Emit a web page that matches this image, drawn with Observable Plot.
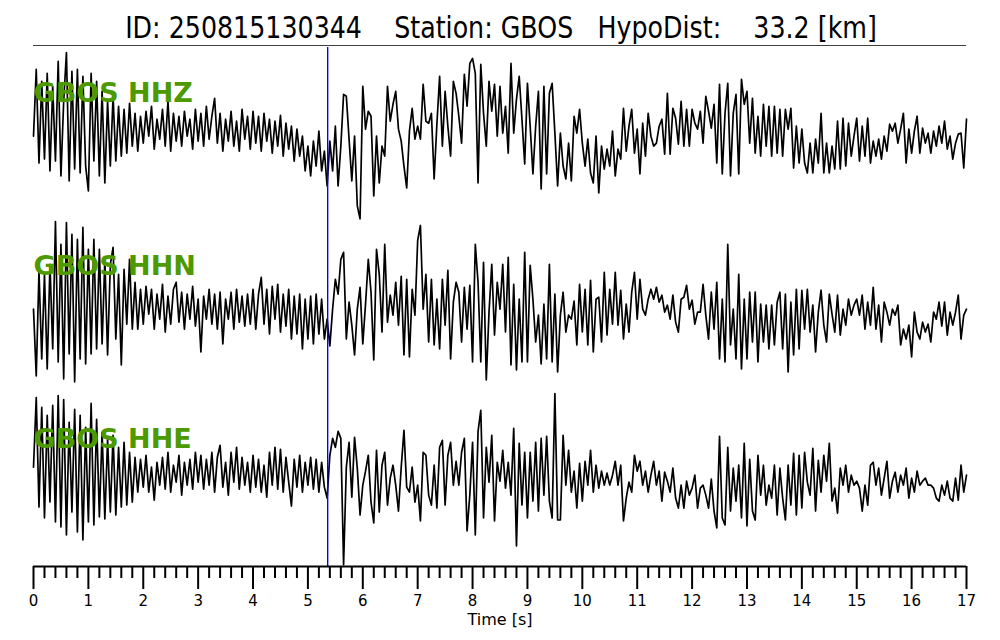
<!DOCTYPE html>
<html>
<head>
<meta charset="utf-8">
<script src="https://cdn.jsdelivr.net/npm/d3@7"></script>
<script src="https://cdn.jsdelivr.net/npm/@observablehq/plot@0.6"></script>
<style>
  html, body { margin: 0; padding: 0; background: white; }
  #wrap { position: relative; width: 1000px; height: 640px; overflow: hidden; background: white; }
  #title { position: absolute; left: 0; top: 0; }
  #chart { position: absolute; left: 0; top: 46px; }
</style>
</head>
<body>
<div id="wrap">
  <svg id="title" width="1000" height="48">
    <text id="titleText" x="0" y="0" text-anchor="middle" font-family="DejaVu Sans" font-size="30" fill="black"
          style="white-space:pre"></text>
    <line x1="33" x2="966" y1="46" y2="46" stroke="black" stroke-width="1.6"></line>
  </svg>
  <div id="chart"></div>
</div>
<script>
// ---- data (sample interval 0.05 s) ----
const eventId = "250815130344";
const station = "GBOS";
const hypoDistKm = "33.2";
const channels = ["HHZ", "HHN", "HHE"];
const sampleInterval = 0.05;   // seconds between samples
const pickTime = 5.36;         // blue marker (s)
const majorTicks = [0,1,2,3,4,5,6,7,8,9,10,11,12,13,14,15,16,17];
const tickStep = 0.2;

const hhz = [
 -5, 62, -32, 50, -28, 58, -40, 45, -30, 70, -45, 30, 79, -50, 60, -38, 62, -42, 55, -35,
 -60, 58, -30, 50, -45, 40, -52, 30, -35, 35, -30, 25, -25, 22, -22, 28, -15, 18, -20, 15,
 -12, 20, -5, 25, -18, 12, -8, 22, -15, 30, -20, 18, -10, 15, -15, 20, -5, 12, -18, 22,
 -10, 18, -15, 25, -8, 15, 33, -12, 18, -20, 12, -10, 20, -15, 10, -20, 22, -8, 15, -18,
 20, -12, 15, -20, 18, -10, 12, -22, 10, -15, 16, -25, 8, -18, 5, -30, 2, -25, -5, -40,
 -15, -45, -10, -35, 0, -40, -20, -55, -10, -40, 5, -55, -15, 37, 35, -8, -50, -5, -75, -88,
 45, 2, 20, 15, -65, -5, -52, -15, -25, 45, 10, 27, 40, 2, -10, -35, -57, 0, 23, -8,
 5, -8, 47, 10, 8, 18, -48, 7, 55, -15, 40, 5, -25, 50, 38, 15, -12, 57, 25, 68,
 73, 58, -52, 67, 18, -15, 50, 20, 47, -5, 45, -2, 25, -22, 68, -2, 32, 55, 12, -33,
 48, 5, -43, 5, 40, -58, 45, -43, 38, 48, -2, -55, -2, -35, -48, -12, -50, 15, -2, 22,
 -12, -35, -8, -42, -52, -5, -62, -15, -38, -18, -35, 0, -45, -18, -28, 23, -20, 5, 22, -22,
 2, -43, 8, -25, 18, -5, -15, -12, 5, 12, -23, 38, -23, 23, 13, -13, 30, -15, 22, -15,
 22, 8, 2, 20, -12, 35, 20, 3, 27, -32, 47, -43, 18, 48, -45, 18, 37, -43, 52, 27,
 40, -12, 33, -22, 15, -25, 27, -15, 25, -25, 25, -22, 22, -25, 22, 2, 23, -37, 5, -32,
 2, -32, -42, -12, -42, -8, -32, 18, -42, -12, -42, -15, -38, 10, -38, 13, -35, 8, -25, -5,
 13, -30, 5, -25, 13, -32, -10, -25, -8, -28, -5, -20, 7, 0, 8, -12, 2, 18, -32, 2,
 -22, 0, 15, -22, 3, -12, -2, -22, 0, -15, 5, -12, 10, -18, -5, -28, -12, -3, -2, -37, 12
];

const hhn = [
 -5, -72, 33, -55, 30, -65, 40, -45, 83, -58, 60, -75, 82, -50, 70, -78, 65, -55, 77, -60,
 55, -50, 65, -45, 55, -40, 45, -51, 40, 57, -35, 30, -61, 35, -20, 45, -25, 22, -25, 15,
 -20, 18, -10, 15, -25, 10, -15, 20, -28, 8, -20, 15, 22, -18, 12, -25, 10, -15, 18, -22,
 5, -48, 8, -15, 15, -20, 10, -25, 12, -40, 5, -15, 12, -25, 15, -18, 8, -22, 10, -20,
 15, -25, 10, 27, -20, 15, -30, 18, -15, 20, -28, 10, -22, 15, -35, 8, -30, 10, -45, 5,
 -35, 8, -40, 10, -30, 5, -35, -15, -42, -5, 25, 10, 45, 52, -35, 2, -21, -51, -5, 17,
 -40, 0, 45, 12, -56, 55, 30, -28, 60, -18, 9, -11, 22, -21, 28, -51, 25, -53, 15, -11,
 64, 79, -5, 30, -38, 25, -41, 5, -45, 25, -21, 34, -55, 2, 22, 12, -38, 17, -25, 19,
 -58, 60, 22, -58, 42, -76, -8, 40, -31, 22, -5, 40, -28, 47, -61, 20, -66, 5, -58, 52,
 -58, 39, 5, -38, -11, -60, 0, -55, 40, -58, 10, -68, -11, 12, -28, -11, -15, 3, -41, 20,
 -28, 15, -41, 24, -48, 5, 7, -38, 32, -31, 15, -20, 32, -21, 14, -35, 0, -28, 12, 32,
 -15, 25, -5, -11, 5, 15, 5, 17, 2, 9, -8, -1, -15, 9, -18, -28, 5, 7, 19, -5,
 4, -20, -8, -8, 20, -11, -35, 12, -25, 22, -55, 5, -58, 60, -41, -5, -55, 30, -65, 5,
 -55, 12, -38, 12, -58, 0, -38, -1, -45, -1, -41, 2, 12, -45, 10, -68, 2, -51, 15, -45,
 14, -25, 15, -28, -1, -48, -8, 14, -21, -38, 10, -10, -28, 9, -31, -5, -21, 5, -11, -1,
 5, -11, 9, -25, 2, -21, 17, -25, -1, -38, 2, -8, -21, -5, -11, -1, -41, -25, -35, -21,
 -53, -8, -28, -35, -18, -28, -20, -38, -8, -15, 2, -22, 2, -31, -8, -21, -8, 9, -35, -11, -5
];

const hhe = [
 10, 80, -30, 70, -41, 62, -25, 72, -45, 82, -50, 78, -58, 55, -35, 68, -55, 62, -63, 50,
 -45, 74, -48, 58, -40, 45, -42, 38, -35, 42, -38, 30, -30, 35, -28, 25, -25, 20, -15, 18,
 -10, 22, -15, 10, -23, 15, -8, 20, -12, 25, -15, 12, -5, 22, -18, 15, -8, 18, -12, 25,
 -5, 22, -12, 18, -8, 25, -15, 20, 32, -10, 15, -18, 25, -5, 30, -12, 20, -8, 15, -15,
 22, -10, 18, -15, 12, -20, 25, -8, 30, -12, 28, -15, 20, -5, -29, 18, -10, 22, -15, 15,
 -8, 20, -12, 18, -15, 15, -10, -21, 22, 39, 30, 46, 39, -88, 10, 35, -20, 40, 9, -38,
 -8, 6, 22, -25, -46, 27, -35, 12, 25, -28, -1, 12, -8, -34, 10, 47, -10, -15, 10, -25,
 -8, -44, 25, 22, -18, -28, 12, -31, 30, 37, -28, 22, 35, -8, 16, -8, 25, 39, -54, -18,
 35, -58, 46, 67, -41, 30, -5, 42, -44, 15, -4, 27, -11, 15, -18, 49, -69, 34, -28, 25,
 -41, 25, -24, 35, -34, 39, -18, 41, -24, -41, 84, -43, -43, 42, -8, 27, -15, 6, -31, 14,
 -24, 16, -8, 27, -15, 12, -11, 6, -8, 4, -8, 2, 16, -8, 12, -44, -21, -5, -15, 22,
 6, 16, -8, 6, -15, 2, 16, -8, 6, -24, 5, -4, -15, 9, -21, -31, -8, -31, -4, -18,
 -11, 2, -31, -11, -8, -18, -31, -2, -34, -51, 41, -41, -48, 30, -34, 9, -24, 12, -41, 34,
 -49, 18, -34, -43, 22, -18, 12, -28, -8, -21, 12, -38, 9, -21, -43, 12, -28, 24, -38, 22,
 -31, 25, -5, -18, 29, -34, 17, -15, 22, -4, 34, -24, -11, -36, 9, -8, 12, -15, 2, -8,
 -4, -11, -34, -8, -28, 12, 15, -8, 9, -18, -1, 16, -21, -4, 5, -15, 2, -8, 9, -21,
 -1, -15, 6, -8, -4, -1, -8, -8, -11, -21, -24, -8, -18, -4, -21, -24, -1, -23, 12, -15, 2
];

// ---- title (condensed, as in the reference) ----
const titleEl = document.getElementById("titleText");
titleEl.textContent = `ID: ${eventId}    Station: ${station}   HypoDist:    ${hypoDistKm} [km]`;
const natural = titleEl.getComputedTextLength();
const sx = 752 / natural;
titleEl.setAttribute("transform", `translate(501,37.5) scale(${sx},1)`);

// ---- build table ----
const series = {HHZ: hhz, HHN: hhn, HHE: hhe};
const rows = channels.flatMap(ch => series[ch].map((v, i) => ({ch, t: i * sampleInterval, v})));
const labels = channels.map(ch => ({ch, text: `${station} ${ch}`}));
const minorTicks = d3.range(0, 17 / tickStep + 1).map(i => +(i * tickStep).toFixed(2)).filter(t => !majorTicks.includes(t));

const yLow = -89.67, yHigh = 84;

const chart = Plot.plot({
  width: 1000,
  height: 594,
  marginLeft: 33,
  marginRight: 34,
  marginTop: 0,
  marginBottom: 73,
  style: {fontFamily: "DejaVu Sans", background: "white", color: "black", overflow: "visible"},
  x: {domain: [0, 17]},
  y: {domain: [yLow, yHigh], axis: null},
  fy: {domain: channels, axis: null, padding: 0},
  marks: [
    Plot.line(rows, {x: "t", y: "v", fy: "ch", z: "ch", stroke: "black", strokeWidth: 1.7, curve: "linear"}),
    Plot.ruleX([pickTime], {stroke: "#0000ff", strokeWidth: 1.4}),
    Plot.text(labels, {x: 0, y: 29, fy: "ch", text: "text", textAnchor: "start", lineAnchor: "bottom",
      fill: "#4c9900", fontSize: 27, fontWeight: "bold", fontFamily: "DejaVu Sans"}),
    Plot.ruleY([{ch: "HHE"}], {y: yLow, fy: "ch", stroke: "black", strokeWidth: 2}),
    Plot.axisX({ticks: majorTicks, tickSize: 23, tickPadding: 6, strokeWidth: 2, fontSize: 15,
      tickFormat: d => String(d), label: null}),
    Plot.axisX({ticks: minorTicks, tickSize: 12, strokeWidth: 2, tickFormat: () => "",
      label: "Time [s]", labelAnchor: "center", labelArrow: "none", labelOffset: 58, fontSize: 16})
  ]
});
document.getElementById("chart").appendChild(chart);
</script>
</body>
</html>
